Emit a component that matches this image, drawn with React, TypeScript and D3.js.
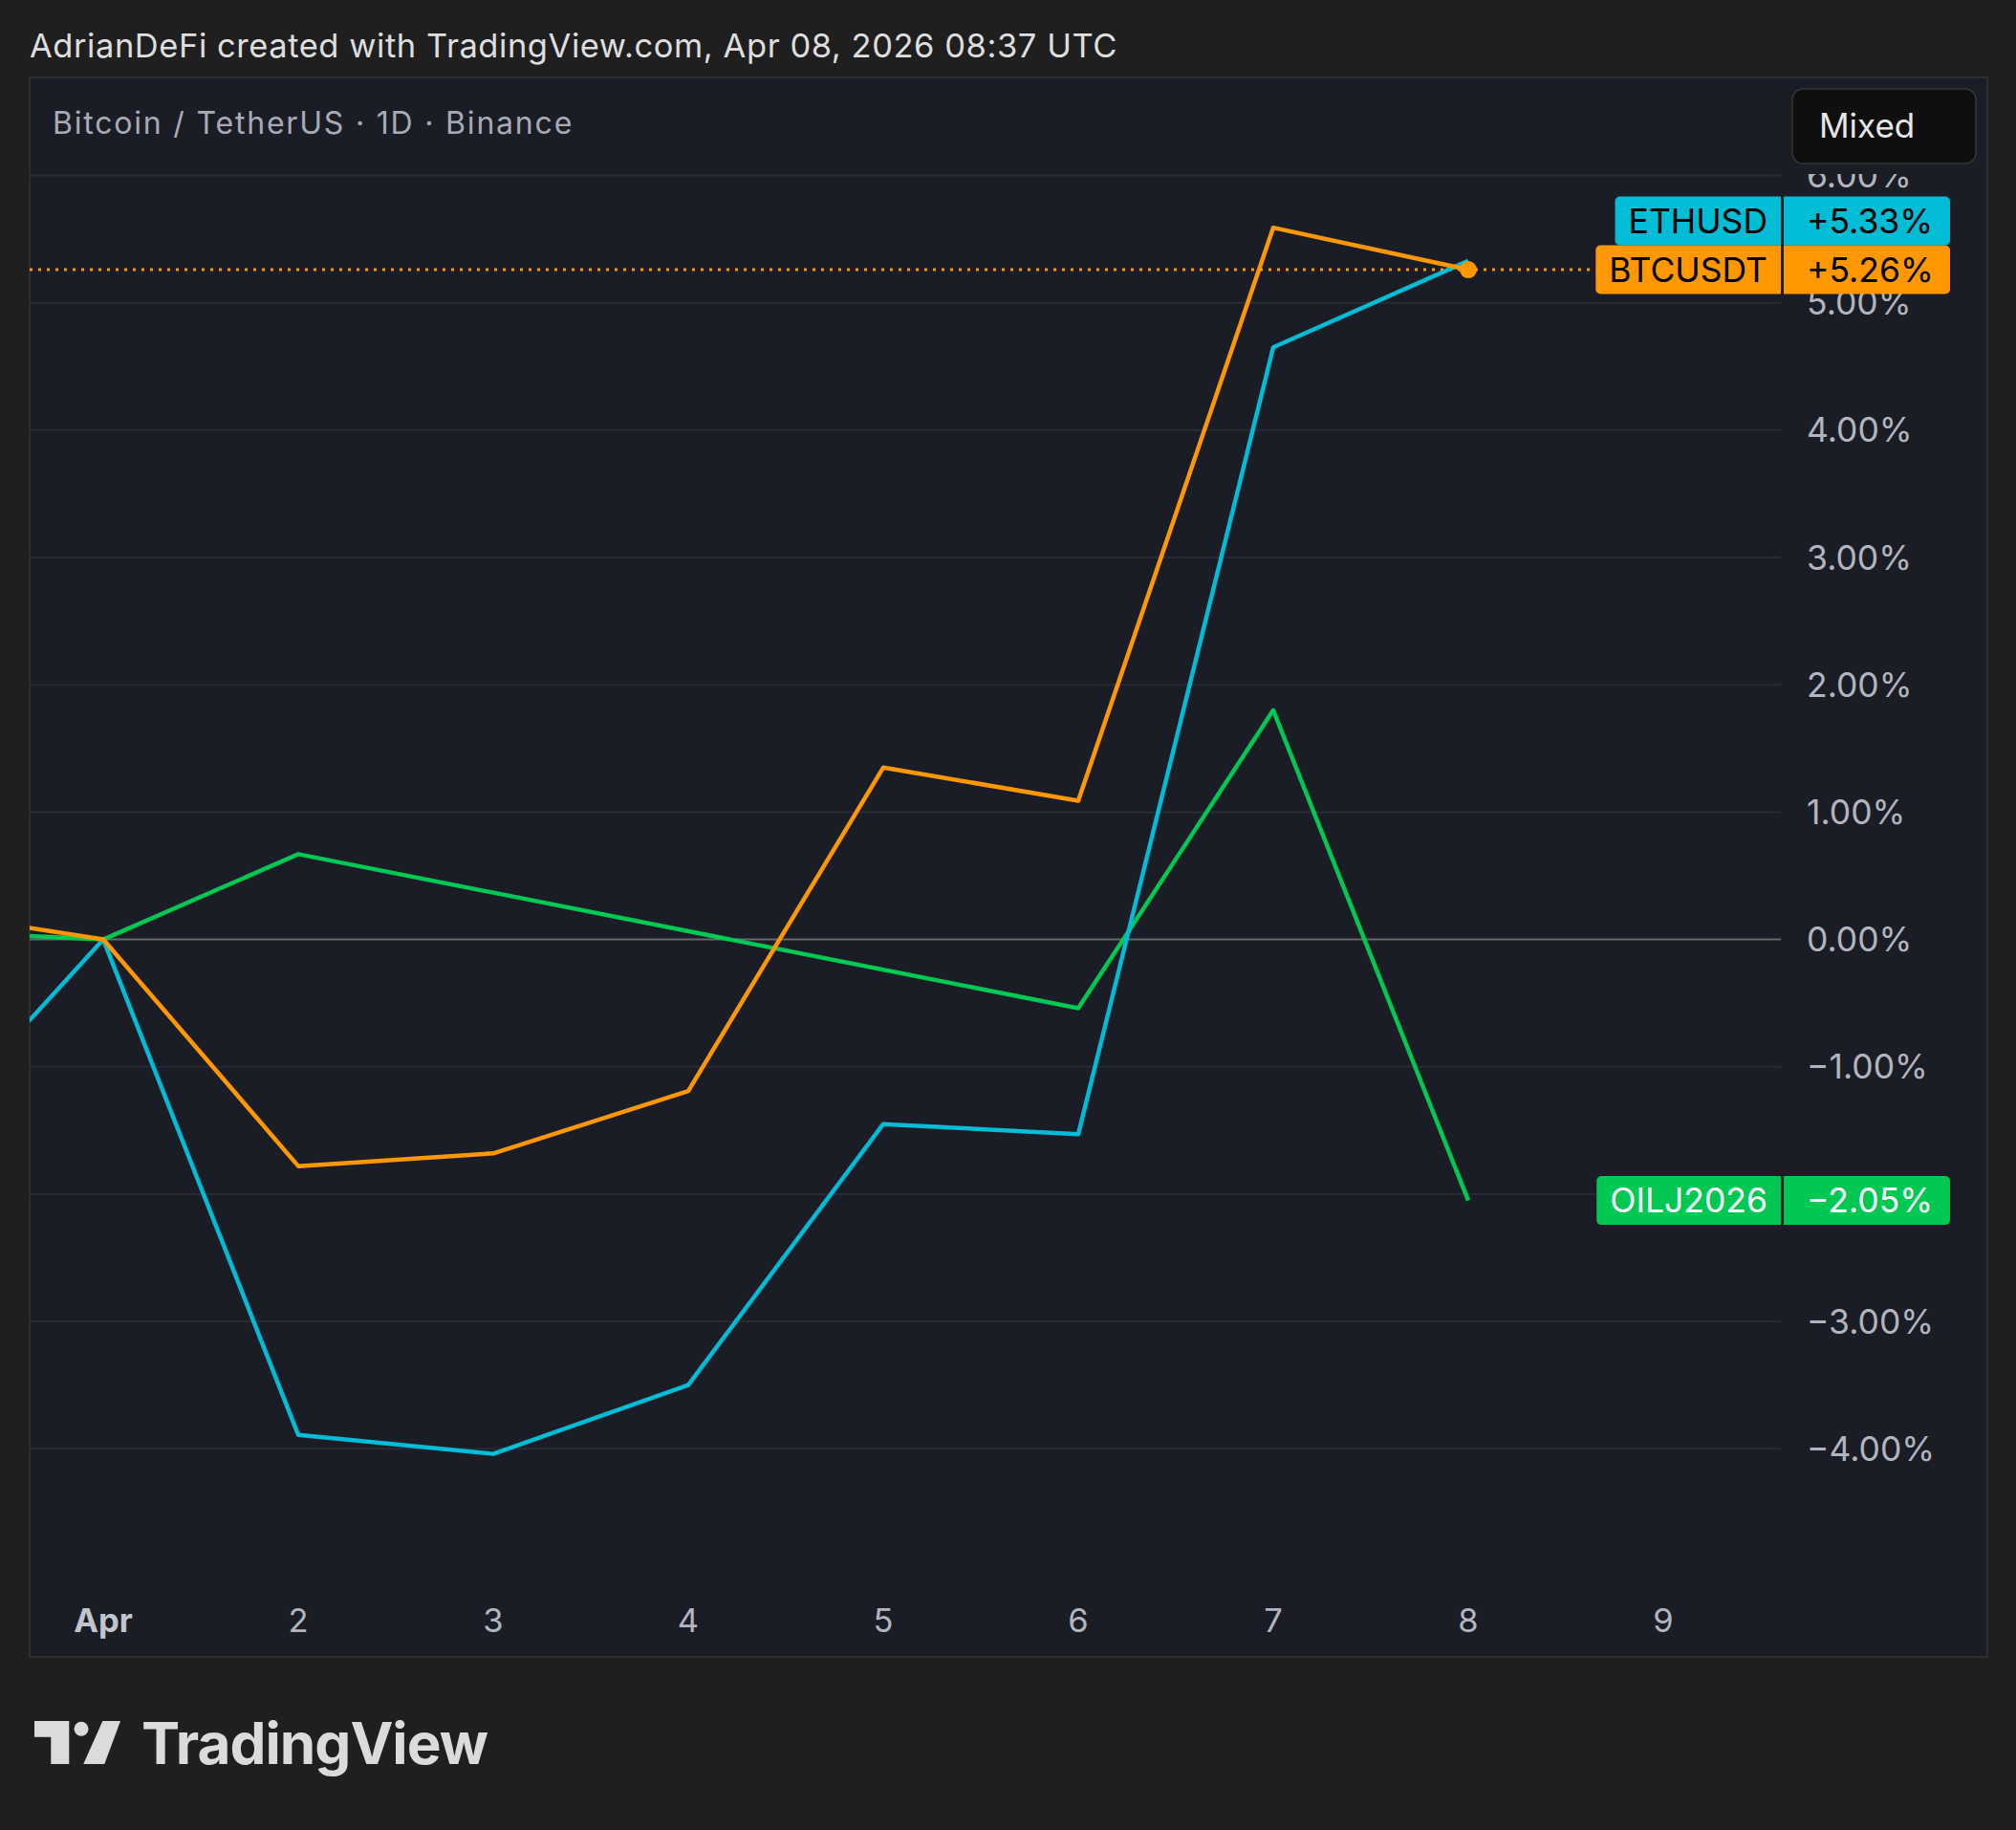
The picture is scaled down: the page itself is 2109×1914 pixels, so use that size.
import * as d3 from 'd3';
import { useEffect, useRef } from 'react';

// percent change vs Apr 1 close, one value per daily bar (Mar 31 .. Apr 8)
const days = [0, 1, 2, 3, 4, 5, 6, 7, 8];
const ethValues = [-1.68, 0, -3.89, -4.04, -3.5, -1.45, -1.53, 4.65, 5.33];
const btcValues = [0.24, 0, -1.78, -1.68, -1.19, 1.35, 1.09, 5.59, 5.26];
// oil futures: no sessions on Apr 3 - Apr 5
const oilDays = [0, 1, 2, 6, 7, 8];
const oilValues = [0.07, 0, 0.67, -0.54, 1.8, -2.05];

const xTickDays = [1, 2, 3, 4, 5, 6, 7, 8, 9];
const xTickLabels = ['Apr', '2', '3', '4', '5', '6', '7', '8', '9'];
const yTicks = [-4, -3, -2, -1, 0, 1, 2, 3, 4, 5, 6];

const W = 2109;
const H = 1914;
const FONT = "Inter, 'Noto Sans', sans-serif";

const panel = { left: 31, top: 81, right: 2079, bottom: 1733 };
const plotRight = 1863;
const axisTextX = 1890;
const labelH = 51;

function boxPath(x: number, y: number, w: number, h: number, rl: number, rr: number) {
  return [
    `M${x + rl},${y}`,
    `H${x + w - rr}`,
    rr ? `A${rr},${rr} 0 0 1 ${x + w},${y + rr}` : '',
    `V${y + h - rr}`,
    rr ? `A${rr},${rr} 0 0 1 ${x + w - rr},${y + h}` : '',
    `H${x + rl}`,
    rl ? `A${rl},${rl} 0 0 1 ${x},${y + h - rl}` : '',
    `V${y + rl}`,
    rl ? `A${rl},${rl} 0 0 1 ${x + rl},${y}` : '',
    'Z',
  ].join(' ');
}

function App() {
  const svgElement = useRef<SVGSVGElement | null>(null);

  useEffect(() => {
    if (!svgElement.current) return;
    const svg = d3.select(svgElement.current);
    svg.selectAll('*').remove();

    const x = d3.scaleLinear().domain([1, 9]).range([108, 1740]);
    const y = d3.scaleLinear().domain([-4, 6]).range([1515.3, 183.5]);

    const defs = svg.append('defs');
    defs
      .append('clipPath')
      .attr('id', 'plot-clip')
      .append('rect')
      .attr('x', panel.left)
      .attr('y', panel.top)
      .attr('width', plotRight - panel.left)
      .attr('height', panel.bottom - panel.top);
    defs
      .append('clipPath')
      .attr('id', 'axis-clip')
      .append('rect')
      .attr('x', plotRight)
      .attr('y', 182)
      .attr('width', panel.right - plotRight)
      .attr('height', panel.bottom - 182);

    // backgrounds
    svg.append('rect').attr('width', W).attr('height', H).attr('fill', '#1f1f1f');
    svg
      .append('rect')
      .attr('x', panel.left)
      .attr('y', panel.top)
      .attr('width', panel.right - panel.left)
      .attr('height', panel.bottom - panel.top)
      .attr('fill', '#1a1d26')
      .attr('stroke', '#2e2e2e')
      .attr('stroke-width', 2);

    svg
      .append('text')
      .attr('x', 31)
      .attr('y', 60)
      .attr('font-family', FONT)
      .attr('font-size', 34.5)
      .attr('letter-spacing', 0.55)
      .attr('fill', '#dedede')
      .text('AdrianDeFi created with TradingView.com, Apr 08, 2026 08:37 UTC');

    svg
      .append('text')
      .attr('x', 55)
      .attr('y', 140)
      .attr('font-family', FONT)
      .attr('font-size', 32)
      .attr('letter-spacing', 1.8)
      .attr('fill', '#a8abb4')
      .text('Bitcoin / TetherUS · 1D · Binance');

    const series = [
      { name: 'OILJ2026', days: oilDays, values: oilValues, color: '#00c853', text: '#ffffff' },
      { name: 'ETHUSD', days, values: ethValues, color: '#00bcd4', text: '#000000' },
      { name: 'BTCUSDT', days, values: btcValues, color: '#ff9800', text: '#000000' },
    ];
    const main = series[2];
    const lastMain = main.values[main.values.length - 1];

    // price scale labels, pushed apart when they collide
    const labels = series
      .map((s) => {
        const v = s.values[s.values.length - 1];
        return { ...s, v, cy: y(v) };
      })
      .sort((a, b) => a.cy - b.cy);
    for (let i = labels.length - 2; i >= 0; i--) {
      labels[i].cy = Math.min(labels[i].cy, labels[i + 1].cy - labelH);
    }
    const hiddenByLabel = (t: number) =>
      labels.some((l) => Math.abs(y(t) - l.cy) < labelH / 2 - 4);

    // grid
    svg
      .append('g')
      .selectAll('line')
      .data(yTicks)
      .join('line')
      .attr('x1', panel.left)
      .attr('x2', plotRight)
      .attr('y1', (d) => y(d))
      .attr('y2', (d) => y(d))
      .attr('stroke', (d) => (d === 0 ? '#686868' : '#282b35'))
      .attr('stroke-width', 2);

    // y axis labels (the ones fully under a symbol label are not drawn)
    const fmtTick = d3.format('.2f');
    svg
      .append('g')
      .attr('clip-path', 'url(#axis-clip)')
      .selectAll('text')
      .data(yTicks.filter((t) => !hiddenByLabel(t)))
      .join('text')
      .attr('x', axisTextX)
      .attr('y', (d) => y(d) + 12.5)
      .attr('font-family', FONT)
      .attr('font-size', 35.5)
      .attr('fill', '#b2b5be')
      .text((d) => `${fmtTick(d)}%`);

    // x axis labels
    svg
      .append('g')
      .selectAll('text')
      .data(xTickDays)
      .join('text')
      .attr('x', (d) => x(d))
      .attr('y', 1707)
      .attr('text-anchor', 'middle')
      .attr('font-family', FONT)
      .attr('font-size', 34.5)
      .attr('font-weight', (d, i) => (i === 0 ? 700 : 400))
      .attr('fill', (d, i) => (i === 0 ? '#c3c5cc' : '#b2b5be'))
      .text((d, i) => xTickLabels[i]);

    const plot = svg.append('g').attr('clip-path', 'url(#plot-clip)');
    // last value dotted line for the main symbol
    const dotted = plot
      .append('line')
      .attr('x1', panel.left)
      .attr('y1', y(lastMain))
      .attr('y2', y(lastMain))
      .attr('stroke', main.color)
      .attr('stroke-width', 3)
      .attr('stroke-dasharray', '3 6');

    series.forEach((s) => {
      const pathGen = d3
        .line<number>()
        .x((d, i) => x(s.days[i]))
        .y((d) => y(d));
      plot
        .append('path')
        .attr('d', pathGen(s.values) as string)
        .attr('fill', 'none')
        .attr('stroke', s.color)
        .attr('stroke-width', 4.5)
        .attr('stroke-linejoin', 'round');
    });

    plot
      .append('circle')
      .attr('cx', x(main.days[main.days.length - 1]))
      .attr('cy', y(lastMain))
      .attr('r', 9)
      .attr('fill', main.color);

    const fmtVal = d3.format('+.2f');
    const labelG = svg.append('g');
    labels.forEach((l) => {
      const top = l.cy - labelH / 2;
      const g = labelG.append('g');
      const nameBox = g.append('path').attr('fill', l.color);
      g.append('path')
        .attr('d', boxPath(plotRight + 3, top, 2040 - plotRight - 3, labelH, 0, 5))
        .attr('fill', l.color);
      const nameText = g
        .append('text')
        .attr('x', plotRight - 14)
        .attr('y', l.cy + 12.5)
        .attr('text-anchor', 'end')
        .attr('font-family', FONT)
        .attr('font-size', 35.5)
        .attr('fill', l.text)
        .text(l.name);
      g.append('text')
        .attr('x', axisTextX)
        .attr('y', l.cy + 12.5)
        .attr('font-family', FONT)
        .attr('font-size', 35.5)
        .attr('fill', l.text)
        .text(`${fmtVal(l.v)}%`);
      const tw = (nameText.node() as SVGTextElement).getComputedTextLength();
      const left = plotRight - 14 - tw - 14;
      nameBox.attr('d', boxPath(left, top, plotRight - left, labelH, 5, 0));
      if (l.name === main.name) dotted.attr('x2', left);
    });

    // Mixed button
    svg
      .append('rect')
      .attr('x', 1875)
      .attr('y', 93)
      .attr('width', 192)
      .attr('height', 78)
      .attr('rx', 11)
      .attr('fill', '#0f0f0f')
      .attr('stroke', '#353535')
      .attr('stroke-width', 1.5);
    svg
      .append('text')
      .attr('x', 1903)
      .attr('y', 144)
      .attr('font-family', FONT)
      .attr('font-size', 35)
      .attr('fill', '#e6e6e6')
      .text('Mixed');

    // TradingView logo
    const logo = svg.append('g').attr('fill', '#dbdbdb');
    logo.append('path').attr('d', 'M36,1800 H72.3 V1845 H53.3 V1816.7 H36 Z');
    logo.append('circle').attr('cx', 85).attr('cy', 1808.3).attr('r', 7.5);
    logo.append('path').attr('d', 'M107.3,1800 H126 L109.3,1845 H87.3 Z');
    logo
      .append('text')
      .attr('x', 148)
      .attr('y', 1845)
      .attr('font-family', FONT)
      .attr('font-size', 60)
      .attr('font-weight', 700)
      .attr('letter-spacing', -1)
      .attr('textLength', 362)
      .attr('lengthAdjust', 'spacingAndGlyphs')
      .text('TradingView');
  }, []);

  return (
    <svg
      ref={svgElement}
      width={W}
      height={H}
      style={{ position: 'absolute', left: 0, top: 0, display: 'block' }}
    />
  );
}

export default App;
